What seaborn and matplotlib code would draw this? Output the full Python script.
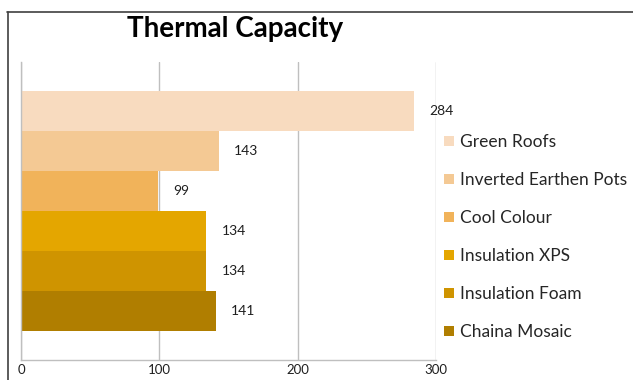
import matplotlib
matplotlib.use("Agg")
import matplotlib.pyplot as plt
import seaborn as sns
import pandas as pd
from matplotlib.patches import Patch
from matplotlib.lines import Line2D

series = ["Green Roofs", "Inverted Earthen Pots", "Cool Colour",
          "Insulation XPS", "Insulation Foam", "Chaina Mosaic"]
values = [284, 143, 99, 134, 134, 141]
colors = ["#F8DBBF", "#F4C994", "#F1B35A", "#E4A600", "#CF9400", "#B07E00"]
x_ticks = [0, 100, 200, 300]

sns.set_theme(style="white")
plt.rcParams["font.family"] = ["Lato", "DejaVu Sans"]

df = pd.DataFrame({"series": series, "value": values})

fig = plt.figure(figsize=(6.33, 3.80), dpi=100)
ax = fig.add_axes([21/633, 1-360/380, 415/633, 298/380])

sns.barplot(data=df, x="value", y="series", hue="series", palette=colors,
            order=series, hue_order=series, width=1.0, dodge=False,
            legend=False, ax=ax, orient="h", saturation=1, linewidth=0)

ax.set_xlim(0, 300)
ax.set_ylim(5.5 + 0.725, -0.5 - 0.725)
ax.set_xticks(x_ticks)
ax.set_xticklabels([str(t) for t in x_ticks], fontsize=9.5, color="#1F1F1F")
ax.tick_params(axis="x", length=0, pad=3)
ax.set_yticks([])
ax.set_xlabel("")
ax.set_ylabel("")
ax.grid(axis="x", color="#BFBFBF", linewidth=1)
ax.set_axisbelow(True)
for s in ["top", "right"]:
    ax.spines[s].set_visible(False)
for s in ["left", "bottom"]:
    ax.spines[s].set_color("#BFBFBF")
    ax.spines[s].set_linewidth(1)

for c in ax.containers:
    ax.bar_label(c, padding=11, fontsize=10, color="#1F1F1F")

handles = [Patch(facecolor=col, edgecolor="none") for col in colors]
fig.legend(handles, series, loc="upper left", bbox_to_anchor=(444/633, 1-134/380),
           frameon=False, fontsize=12.5, handlelength=0.55, handleheight=0.55,
           handletextpad=0.4, labelspacing=1.27, borderaxespad=0, borderpad=0,
           labelcolor="#262626")

fig.text(235/633, 1-37/380, "Thermal Capacity", ha="center", va="baseline",
         fontsize=20, fontweight="bold", color="#000000")

fig.add_artist(Line2D([7/633, 1], [1-12/380, 1-12/380], color="#404040", lw=1.2))
fig.add_artist(Line2D([8/633, 8/633], [0, 1-12/380], color="#404040", lw=1.2))

fig.savefig("out.png", dpi=100)
